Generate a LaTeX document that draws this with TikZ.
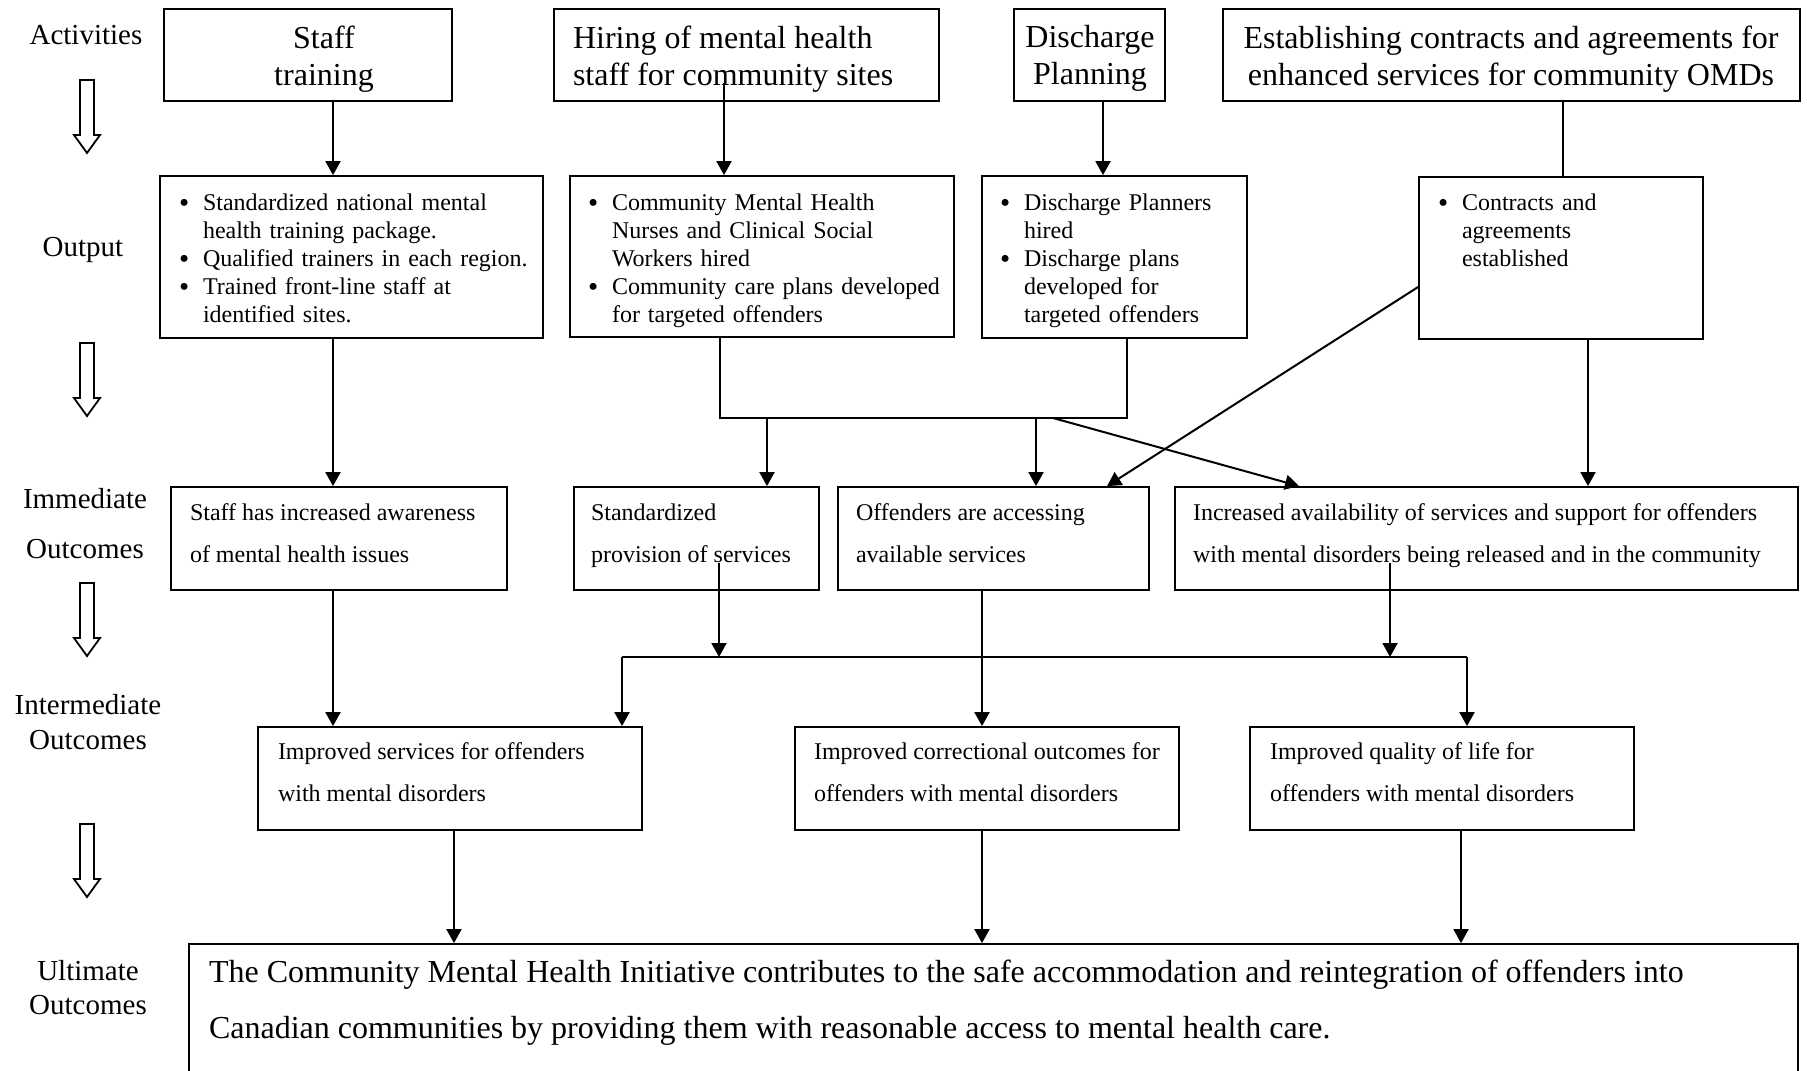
\documentclass[tikz,border=0pt]{standalone}
\usepackage{fontspec}
\setmainfont{Liberation Serif}
\usetikzlibrary{arrows.meta,fit}
\newcommand\fsAct{\fontsize{16pt}{18.5pt}\selectfont}
\newcommand\fsOut{\fontsize{12pt}{14pt}\selectfont}
\newcommand\fsImm{\fontsize{12pt}{21pt}\selectfont}
\newcommand\fsUlt{\fontsize{16pt}{28pt}\selectfont}
\newcommand\fsLab{\fontsize{14.5pt}{17pt}\selectfont}
\newcommand\bigbul{\raisebox{-1.1pt}[0pt][0pt]{\fontsize{14.5pt}{14pt}\selectfont\textbullet}}
\newcommand\bul[1]{\par\noindent\hangindent=12pt\hangafter=1\makebox[12pt][l]{\bigbul}#1\par}
\begin{document}
\begin{tikzpicture}[x=0.5pt,y=-0.5pt,
  box/.style={draw, line width=0.9pt, inner sep=0pt},
  txt/.style={inner sep=0pt, outer sep=0pt, anchor=north west, align=left},
  ctxt/.style={inner sep=0pt, outer sep=0pt, anchor=north, align=center},
  lab/.style={inner sep=0pt, font=\fsLab},
  arr/.style={line width=1pt, -{Triangle[width=7.5pt,length=7pt]}},
  ln/.style={line width=1pt},
  hollow/.style={line width=0.9pt, line join=miter}]
\clip (0,0) rectangle (1807,1070);
\fill[white] (0,0) rectangle (1807,1070);

% left labels
\node[lab] (lAct) at (86,35) {Activities};
\node[lab] (lOut) at (83,250) {Output};
\node[lab] (lImm1) at (85,499) {Immediate};
\node[lab] (lImm2) at (85,549) {Outcomes};
\node[lab] (lInt1) at (88,705) {Intermediate};
\node[lab] (lInt2) at (88,740) {Outcomes};
\node[lab] (lUlt1) at (88,971) {Ultimate};
\node[lab] (lUlt2) at (88,1005) {Outcomes};

% hollow arrows
\foreach \t in {80,343,583,824}
  \draw[hollow] (80,\t) -- (94,\t) -- (94,{\t+55}) -- (100,{\t+55}) -- (87,{\t+73}) -- (74,{\t+55}) -- (80,{\t+55}) -- cycle;

% activity boxes
\node[box, fit={(164,9) (452,101)}] (actStaff) {};
\node[box, fit={(554,9) (939,101)}] (actHire) {};
\node[box, fit={(1014,9) (1165,101)}] (actDis) {};
\node[box, fit={(1223,9) (1800,101)}] (actCon) {};
\node[ctxt, font=\fsAct] (tStaff) at (324,25.5) {Staff\\training};
\node[txt, font=\fsAct] (tHire) at (573,25.5) {Hiring of mental health\\staff for community sites};
\node[ctxt, font=\fsAct] (tDis) at (1090,25.5) {Discharge\\Planning};
\node[ctxt, font=\fsAct] (tCon) at (1511,25.5) {Establishing contracts and agreements for\\enhanced services for community OMDs};

% output boxes
\node[box, fit={(160,176) (543,338)}] (outStaff) {};
\node[box, fit={(570,176) (954,337)}] (outHire) {};
\node[box, fit={(982,176) (1247,338)}] (outDis) {};
\node[box, fit={(1419,177) (1703,339)}] (outCon) {};
\node[txt, font=\fsOut, text width=180pt] (tOutStaff) at (179,182)
  {\bul{Standardized national mental\newline health training package.}\bul{Qualified trainers in each region.}\bul{Trained front-line staff at\newline identified sites.}};
\node[txt, font=\fsOut, text width=180pt] (tOutHire) at (588,182)
  {\bul{Community Mental Health\newline Nurses and Clinical Social\newline Workers hired}\bul{Community care plans developed\newline for targeted offenders}};
\node[txt, font=\fsOut, text width=120pt] (tOutDis) at (1000,182)
  {\bul{Discharge Planners\newline hired}\bul{Discharge plans\newline developed for\newline targeted offenders}};
\node[txt, font=\fsOut, text width=130pt] (tOutCon) at (1438,182)
  {\bul{Contracts and\newline agreements\newline established}};

% immediate outcomes
\node[box, fit={(171,487) (507,590)}] (imAware) {};
\node[box, fit={(574,487) (819,590)}] (imStd) {};
\node[box, fit={(838,487) (1149,590)}] (imAcc) {};
\node[box, fit={(1175,487) (1798,590)}] (imAvail) {};
\node[txt, font=\fsImm] (tAware) at (190,503.6) {Staff has increased awareness\\of mental health issues};
\node[txt, font=\fsImm] (tStd) at (591,503.6) {Standardized\\provision of services};
\node[txt, font=\fsImm] (tAcc) at (856,503.6) {Offenders are accessing\\available services};
\node[txt, font=\fsImm] (tAvail) at (1193,503.6) {Increased availability of services and support for offenders\\with mental disorders being released and in the community};

% intermediate outcomes
\node[box, fit={(258,727) (642,830)}] (inServ) {};
\node[box, fit={(795,727) (1179,830)}] (inCorr) {};
\node[box, fit={(1250,727) (1634,830)}] (inQual) {};
\node[txt, font=\fsImm] (tServ) at (278,743) {Improved services for offenders\\with mental disorders};
\node[txt, font=\fsImm] (tCorr) at (814,743) {Improved correctional outcomes for\\offenders with mental disorders};
\node[txt, font=\fsImm] (tQual) at (1270,743) {Improved quality of life for\\offenders with mental disorders};

% ultimate
\node[box, fit={(189,944) (1798,1095)}] (ult) {};
\node[txt, font=\fsUlt] (tUlt) at (209,960) {The Community Mental Health Initiative contributes to the safe accommodation and reintegration of offenders into\\Canadian communities by providing them with reasonable access to mental health care.};

% helper coordinates
\coordinate (xA) at (333,0);
\coordinate (hireStart) at (724,83);
\coordinate (xD) at (1103,0);
\coordinate (xC) at (1563,0);
\coordinate (junL) at (720,418);
\coordinate (junR) at (1127,418);
\coordinate (j1) at (767,418);
\coordinate (j2) at (1036,418);
\coordinate (j3) at (1053,418);
\coordinate (xAv) at (1299,0);
\coordinate (conY) at (0,287);
\coordinate (xAcc) at (1107,0);
\coordinate (xE) at (1588,0);
\coordinate (stdStart) at (719,563);
\coordinate (avStart) at (1390,563);
\coordinate (busY) at (0,657);
\coordinate (busL) at (622,657);
\coordinate (busR) at (1467,657);
\coordinate (xF) at (982,0);
\coordinate (xG) at (454,0);
\coordinate (xH) at (1461,0);

% connectors
\draw[arr] (actStaff.south -| xA) -- (outStaff.north -| xA);
\draw[arr] (hireStart) -- (outHire.north -| hireStart);
\draw[arr] (actDis.south -| xD) -- (outDis.north -| xD);
\draw[ln] (actCon.south -| xC) -- (outCon.north -| xC);
\draw[arr] (outStaff.south -| xA) -- (imAware.north -| xA);
\draw[ln] (outHire.south -| junL) -- (junL) -- (junR) -- (outDis.south -| junR);
\draw[arr] (j1) -- (imStd.north -| j1);
\draw[arr] (j2) -- (imAcc.north -| j2);
\draw[arr] (j3) -- (imAvail.north -| xAv);
\draw[arr] (outCon.west |- conY) -- (imAcc.north -| xAcc);
\draw[arr] (outCon.south -| xE) -- (imAvail.north -| xE);
\draw[arr] (imAware.south -| xA) -- (inServ.north -| xA);
\draw[arr] (stdStart) -- (stdStart |- busY);
\draw[arr] (avStart) -- (avStart |- busY);
\draw[ln] (busL) -- (busR);
\draw[arr] (busL) -- (inServ.north -| busL);
\draw[arr] (busR) -- (inQual.north -| busR);
\draw[arr] (imAcc.south -| xF) -- (inCorr.north -| xF);
\draw[arr] (inServ.south -| xG) -- (ult.north -| xG);
\draw[arr] (inCorr.south -| xF) -- (ult.north -| xF);
\draw[arr] (inQual.south -| xH) -- (ult.north -| xH);
\end{tikzpicture}
\end{document}
